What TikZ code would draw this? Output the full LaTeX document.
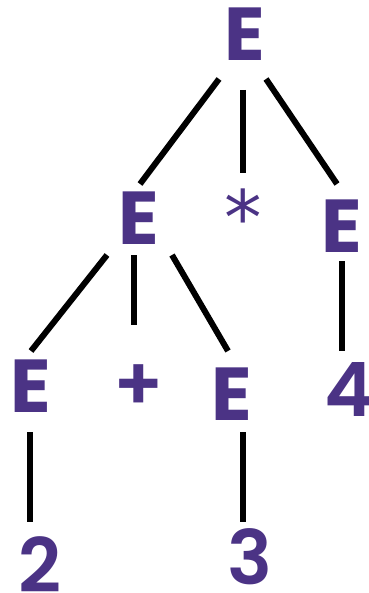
\documentclass[tikz,border=0pt]{standalone}
\usepackage{fontspec}
\setmainfont{Poppins}
\newfontfamily\semifont{Poppins SemiBold}
\newfontfamily\starfont{DejaVu Sans}
\usepackage{tikz}
\definecolor{treepurple}{RGB}{75,51,133}

\begin{document}
\begin{tikzpicture}[x=1pt,y=-1pt,every node/.style={inner sep=0pt,text=treepurple,font=\fontsize{75}{75}\selectfont\bfseries},leaf/.style={font=\fontsize{75}{75}\semifont\mdseries},edge/.style={line width=6pt}]
  \useasboundingbox (0,0) rectangle (368,593);
  % symbols
  \node (eTop) at (245,34) {E};
  \node (eL) at (139,218) {E};
  \node (star) at (243,217) {\starfont\mdseries *};
  \node (eR) at (342,226) {E};
  \node (e1) at (31,386) {E};
  \node[leaf] (plus) at (139,388) {+};
  \node (e2) at (232,394) {E};
  \node[leaf] (n4) at (349,389) {4};
  \node[leaf] (n2) at (40,565) {2};
  \node[leaf] (n3) at (250,557) {3};
  % edges
  \draw[edge]([shift={(-26,45)}]eTop.center)--([shift={(1,-34)}]eL.center);
  \draw[edge]([shift={(-2,56)}]eTop.center)--([shift={(0,-44)}]star.center);
  \draw[edge]([shift={(21,45)}]eTop.center)--([shift={(-5,-42)}]eR.center);
  \draw[edge]([shift={(-32,37)}]eL.center)--([shift={(0,-35)}]e1.center);
  \draw[edge]([shift={(-5,37)}]eL.center)--([shift={(-5,-63)}]plus.center);
  \draw[edge]([shift={(33,37)}]eL.center)--([shift={(-4,-43)}]e2.center);
  \draw[edge]([shift={(0,35)}]eR.center)--([shift={(-7,-38)}]n4.center);
  \draw[edge]([shift={(-1,46)}]e1.center)--([shift={(-10,-43)}]n2.center);
  \draw[edge]([shift={(11,38)}]e2.center)--([shift={(-7,-35)}]n3.center);
\end{tikzpicture}
\end{document}
